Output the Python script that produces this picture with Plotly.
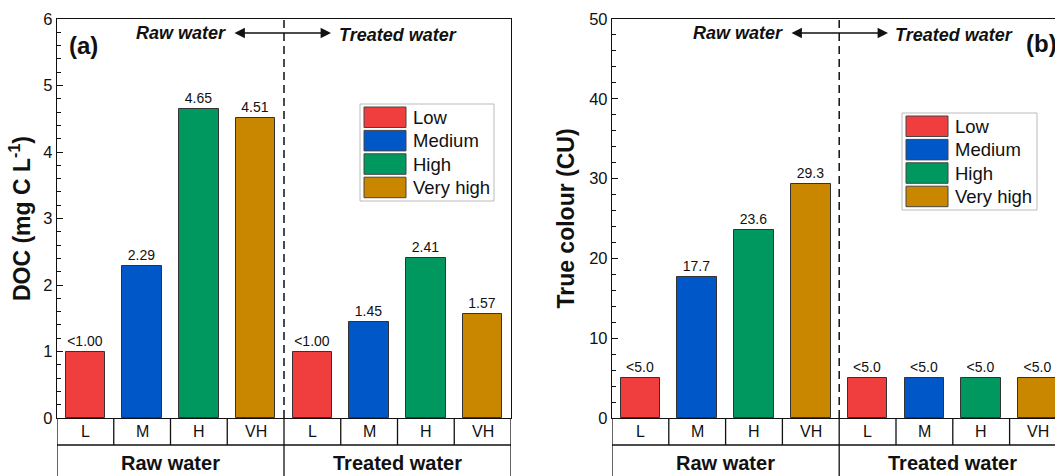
import plotly.graph_objects as go

# ---- data ----
categories = ["L", "M", "H", "VH"]
groups = ["Raw water", "Treated water"]
levels = ["Low", "Medium", "High", "Very high"]

doc_raw = [1.00, 2.29, 4.65, 4.51]
doc_treated = [1.00, 1.45, 2.41, 1.57]
doc_raw_labels = ["<1.00", "2.29", "4.65", "4.51"]
doc_treated_labels = ["<1.00", "1.45", "2.41", "1.57"]

colour_raw = [5.0, 17.7, 23.6, 29.3]
colour_treated = [5.0, 5.0, 5.0, 5.0]
colour_raw_labels = ["<5.0", "17.7", "23.6", "29.3"]
colour_treated_labels = ["<5.0", "<5.0", "<5.0", "<5.0"]

level_colors = ["#F03E3E", "#0057C8", "#00985F", "#C98700"]

FONT = "Arial, Liberation Sans, sans-serif"
W, H = 1055, 476


def px(x):
    return x / W


def py(y):
    return 1 - y / H


fig = go.Figure()

panels = [
    dict(xa="x", ya="y", raw=doc_raw, tr=doc_treated,
         rl=doc_raw_labels, tl=doc_treated_labels),
    dict(xa="x2", ya="y2", raw=colour_raw, tr=colour_treated,
         rl=colour_raw_labels, tl=colour_treated_labels),
]

for p in panels:
    for k, lev in enumerate(levels):
        fig.add_trace(go.Bar(
            x=[k, k + 4],
            y=[p["raw"][k], p["tr"][k]],
            text=[p["rl"][k], p["tl"][k]],
            textposition="outside",
            textfont=dict(family=FONT, size=14, color="#111"),
            cliponaxis=False,
            width=0.7,
            marker=dict(color=level_colors[k], line=dict(color="#333", width=1)),
            xaxis=p["xa"], yaxis=p["ya"],
            name=lev, showlegend=False,
        ))

axis_common = dict(showgrid=False, zeroline=False, showline=True,
                   linecolor="#111", linewidth=1.3, automargin=False)

ydom = [py(418), py(19)]
fig.update_layout(
    width=W, height=H,
    margin=dict(l=0, r=0, t=0, b=0),
    paper_bgcolor="white", plot_bgcolor="white",
    font=dict(family=FONT, color="#111"),
    bargap=0,
    xaxis=dict(domain=[px(57), px(511)], range=[-0.5, 7.5],
               showticklabels=False, ticks="", mirror=True, **axis_common),
    yaxis=dict(domain=ydom, range=[0, 6], dtick=1, ticks="inside",
               ticklen=6, tickwidth=1.2, tickcolor="#111", mirror=True,
               tickfont=dict(size=16.5, family=FONT),
               minor=dict(dtick=0.2, ticks="inside", ticklen=3.5,
                          tickcolor="#111", tickwidth=1),
               title=dict(text="<b>DOC (mg C L<sup>-1</sup>)</b>",
                          font=dict(size=23, family=FONT), standoff=6),
               **axis_common),
    xaxis2=dict(domain=[px(612), 1.0],
                range=[-0.5, -0.5 + (W - 612) / 56.8],
                showticklabels=False, ticks="", mirror=True, **axis_common),
    yaxis2=dict(domain=ydom, range=[0, 50], dtick=10, ticks="inside",
                ticklen=6, tickwidth=1.2, tickcolor="#111", mirror=False,
                tickfont=dict(size=16.5, family=FONT),
                minor=dict(dtick=2, ticks="inside", ticklen=3.5,
                           tickcolor="#111", tickwidth=1),
                title=dict(text="<b>True colour (CU)</b>",
                           font=dict(size=23, family=FONT), standoff=8),
                anchor="x2", **axis_common),
)

shapes = []
annotations = []
CELL_BOTTOM = -27 / 399   # bottom of the category row, in y-domain units
TABLE_BOTTOM = -0.2

for xa, ya in [("x", "y"), ("x2", "y2")]:
    ydomref = ya + " domain"
    # dashed separator between raw and treated water inside the plot
    shapes.append(dict(type="line", xref=xa, yref=ydomref, x0=3.5, x1=3.5,
                       y0=0, y1=1, line=dict(color="#111", width=1.5, dash="8px,5px")))
    # category table under the axis
    shapes.append(dict(type="line", xref=xa, yref=ydomref, x0=-0.5, x1=7.5,
                       y0=CELL_BOTTOM, y1=CELL_BOTTOM, line=dict(color="#111", width=1.3)))
    for b in [0.5, 1.5, 2.5, 4.5, 5.5, 6.5]:
        shapes.append(dict(type="line", xref=xa, yref=ydomref, x0=b, x1=b,
                           y0=0, y1=CELL_BOTTOM, line=dict(color="#111", width=1.3)))
    for b in [-0.5, 3.5, 7.5]:
        shapes.append(dict(type="line", xref=xa, yref=ydomref, x0=b, x1=b,
                           y0=0, y1=TABLE_BOTTOM, line=dict(color="#111", width=1.3)))
    for i in range(8):
        annotations.append(dict(xref=xa, yref=ydomref, x=i, y=CELL_BOTTOM / 2,
                                text=categories[i % 4], showarrow=False,
                                font=dict(size=16, family=FONT, color="#111"),
                                xanchor="center", yanchor="middle"))
    for g, gx in zip(groups, [1.5, 5.5]):
        annotations.append(dict(xref=xa, yref=ydomref, x=gx, y=(418 - 463) / 399,
                                text="<b>" + g + "</b>", showarrow=False,
                                font=dict(size=20, family=FONT, color="#111"),
                                xanchor="center", yanchor="middle"))

# Raw water <-> Treated water headers
for (rw_right, a0, a1, tw_left) in [(228, 233, 331, 337), (785, 790, 888, 893)]:
    annotations.append(dict(xref="paper", yref="paper", x=px(rw_right), y=py(33),
                            text="<b><i>Raw water</i></b>", showarrow=False,
                            xanchor="right", yanchor="middle",
                            font=dict(size=18, family=FONT, color="#111")))
    annotations.append(dict(xref="paper", yref="paper", x=px(tw_left), y=py(35),
                            text="<b><i>Treated water</i></b>", showarrow=False,
                            xanchor="left", yanchor="middle",
                            font=dict(size=18, family=FONT, color="#111")))
    annotations.append(dict(xref="paper", yref="paper", x=px(a1), y=py(33),
                            axref="pixel", ayref="pixel", ax=-(a1 - a0), ay=0,
                            text="", showarrow=True, arrowside="end+start",
                            arrowhead=2, arrowsize=1.6, arrowwidth=1.3,
                            arrowcolor="#111"))

# panel letters
annotations.append(dict(xref="paper", yref="paper", x=px(67), y=py(46),
                        text="<b>(a)</b>", showarrow=False, xanchor="left",
                        yanchor="middle", font=dict(size=24, family=FONT, color="#111")))
annotations.append(dict(xref="paper", yref="paper", x=px(1024), y=py(43),
                        text="<b>(b)</b>", showarrow=False, xanchor="left",
                        yanchor="middle", font=dict(size=24, family=FONT, color="#111")))

# legends (one per panel)
for (bx0, by0, bx1, by1) in [(360, 104, 494, 201), (902, 113, 1037, 210)]:
    shapes.append(dict(type="rect", xref="paper", yref="paper",
                       x0=px(bx0), x1=px(bx1), y0=py(by0), y1=py(by1),
                       line=dict(color="#BBBBBB", width=1), fillcolor="white"))
    for k, lev in enumerate(levels):
        top = by0 + 3 + 23.4 * k
        shapes.append(dict(type="rect", xref="paper", yref="paper",
                           x0=px(bx0 + 4), x1=px(bx0 + 46),
                           y0=py(top), y1=py(top + 20.5),
                           line=dict(color="#444", width=1),
                           fillcolor=level_colors[k]))
        annotations.append(dict(xref="paper", yref="paper", x=px(bx0 + 51),
                                y=py(top + 10.5), text=lev, showarrow=False,
                                xanchor="left", yanchor="middle",
                                font=dict(size=18.5, family=FONT, color="#111")))

fig.update_layout(shapes=shapes, annotations=annotations)

fig.write_html("out.html")
